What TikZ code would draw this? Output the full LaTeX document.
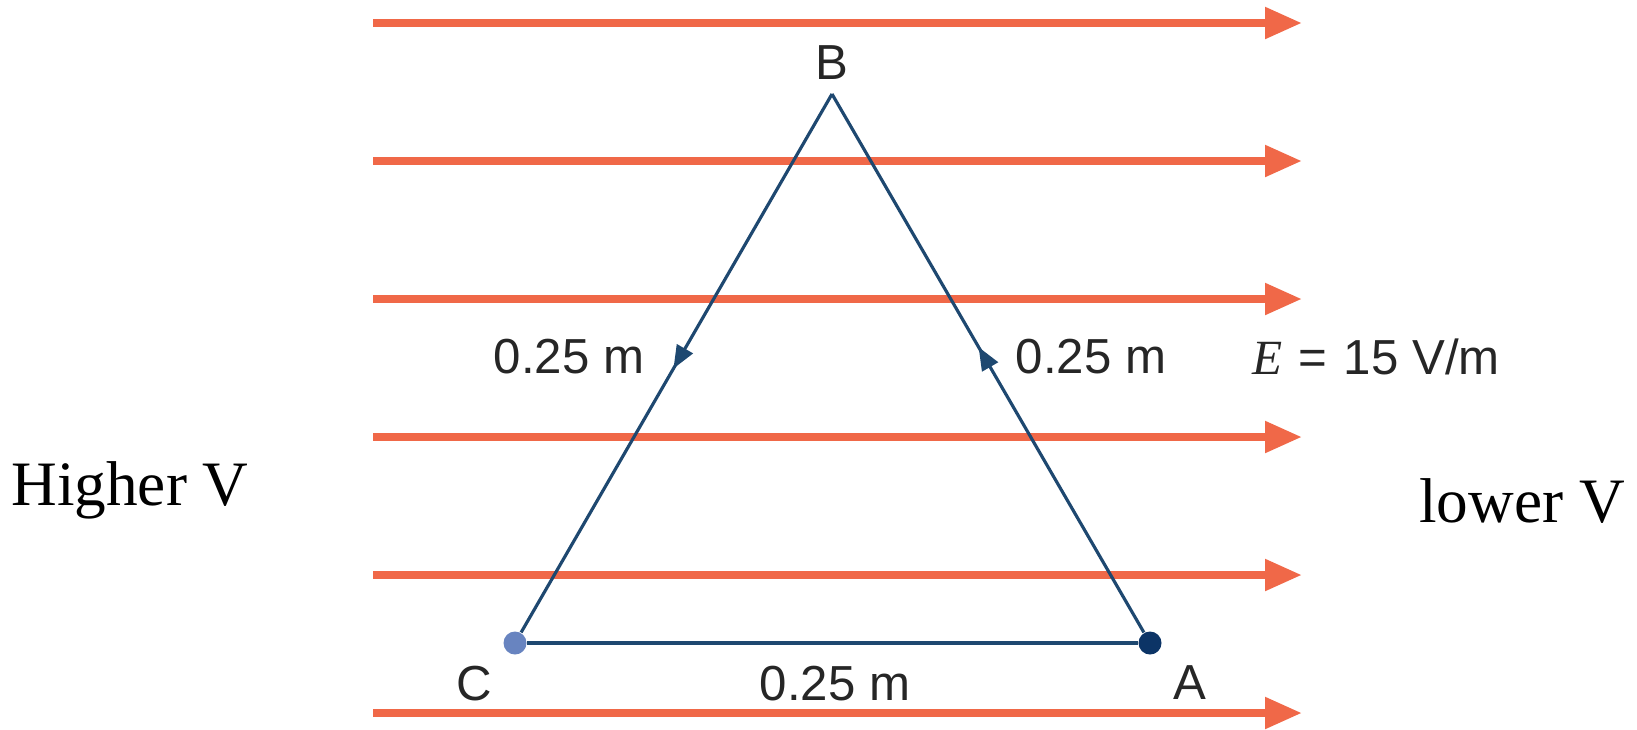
\documentclass[tikz,border=0pt]{standalone}
\usepackage{fontspec}
\setmainfont{Liberation Serif}
\setsansfont{Liberation Sans}
\usepackage{xcolor}
\usepackage{tikz}
\usetikzlibrary{positioning, arrows.meta, decorations.markings}

\definecolor{fieldorange}{RGB}{240,104,72}
\definecolor{pathblue}{RGB}{30,72,112}
\definecolor{dotlight}{RGB}{104,132,192}
\definecolor{dotdark}{RGB}{12,52,102}

\begin{document}
\begin{tikzpicture}[
    field/.style={line width=2.3pt, fieldorange,
                  -{Triangle[length=3.7mm, width=3mm]}},
    side/.style={pathblue, line width=0.9pt, postaction={decorate},
                 decoration={markings, mark=at position #1 with
                   {\arrow{Triangle[length=2.3mm, width=1.8mm]}}}},
    pt/.style={circle, inner sep=0pt, minimum size=2.3mm},
    lbl/.style={font=\sffamily\fontsize{14}{16}\selectfont, text=black!85},
    side lbl/.style={font=\rmfamily\fontsize{18}{21}\selectfont, anchor=base}
  ]
  \useasboundingbox (0,0) rectangle (16.37,7.29);

  % field lines
  \foreach \i in {0,...,5} {
    \coordinate (fl\i) at (3.73, 7.06-1.38*\i);
    \coordinate (fr\i) at (13.02, 7.06-1.38*\i);
    \draw[field] (fl\i) -- (fr\i);
  }

  % corners of the triangle
  \coordinate (B) at (8.32, 6.35);
  \node[pt, fill=dotlight] (C) at (5.15, 0.86) {};
  \node[pt, fill=dotdark]  (A) at (11.50, 0.86) {};

  \draw[side=0.53] (A) -- (B);
  \draw[side=0.51] (B) -- (C);
  \draw[pathblue, line width=0.9pt] (C) -- (A);

  \node[lbl] (lB) at (8.32, 6.66) {B};
  \node[lbl, below left=0.02cm and 0.02cm of C] (lC) {C};
  \node[lbl, below right=0.02cm and 0.02cm of A] (lA) {A};
  \node[lbl] (dCA) at (8.35, 0.45) {0.25 m};
  \node[lbl] (dBC) at (5.69, 3.72) {0.25 m};
  \node[lbl] (dAB) at (10.91, 3.72) {0.25 m};
  \node[lbl] (efield) at (13.76, 3.72)
    {{\rmfamily\itshape E}\,\,=\,\,15 V/m};

  \node[side lbl] (high) at (1.30, 2.24) {Higher V};
  \node[side lbl] (low)  at (15.22, 2.07) {lower V};
\end{tikzpicture}
\end{document}
